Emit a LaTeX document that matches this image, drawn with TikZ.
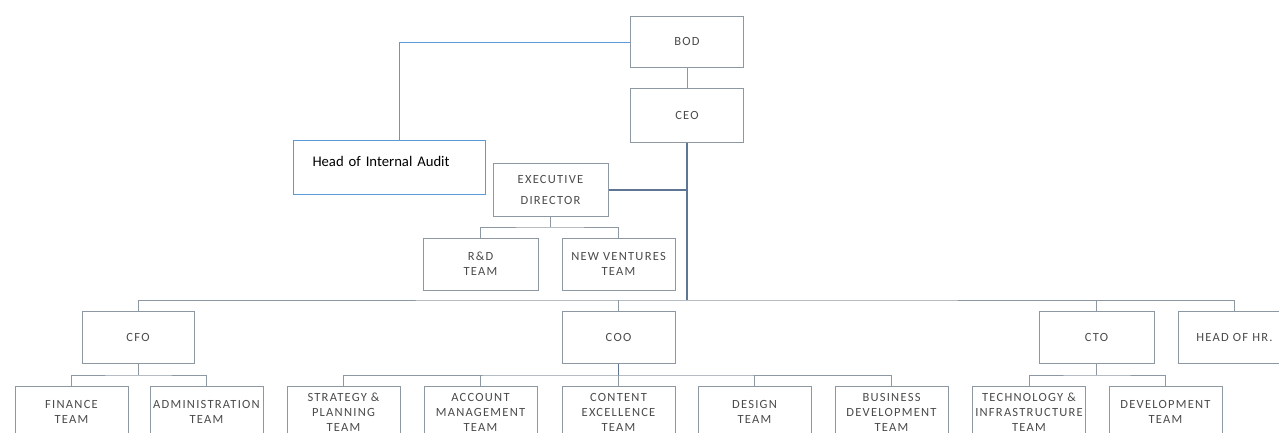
\documentclass[tikz,border=0pt]{standalone}
\usepackage{fontspec}
\setmainfont{Carlito}
\newfontfamily\boxfont[LetterSpace=10]{Carlito}
\usepackage{tikz}
\definecolor{linegray}{HTML}{8E98A3}
\definecolor{trunkblue}{HTML}{5E7694}
\definecolor{auditblue}{HTML}{5B9BD5}
\definecolor{textgray}{HTML}{4A4A4A}
\tikzset{
  box/.style={draw=linegray,line width=1pt,minimum width=113pt,minimum height=52pt,
    inner sep=1pt,align=center,text=textgray,font=\boxfont\fontsize{12.5}{15}\selectfont},
  link/.style={draw=linegray,line width=1pt},
  trunk/.style={draw=trunkblue,line width=1.3pt},
  auditbox/.style={draw=auditblue,line width=1pt,minimum width=192pt,minimum height=54pt,
    text width=154pt,inner xsep=19pt,inner ysep=0pt,align=left,text depth=12pt,
    font=\fontsize{14.7}{17}\selectfont}
}
\begin{document}
\begin{tikzpicture}[x=1pt,y=-1pt]
\useasboundingbox (0,0) rectangle (1279,432);
\clip (0,0) rectangle (1279,432);
\node[box,minimum height=51pt] (bod) at (687,41.5) {BOD};
\node[box,minimum height=54pt] (ceo) at (687,115) {CEO};
\node[auditbox,anchor=north west] (audit) at (293,140) {Head of Internal Audit};
\node[box,minimum width=115pt,minimum height=53pt] (exec) at (550.5,190) {EXECUTIVE\\[6pt]DIRECTOR};
\node[box,minimum width=115pt] (rnd) at (480.5,264) {R\&D\\TEAM};
\node[box] (ventures) at (618.5,264) {NEW VENTURES\\TEAM};
\node[box,minimum width=112pt] (cfo) at (138,337) {CFO};
\node[box] (coo) at (618.5,337) {COO};
\node[box,minimum width=115pt] (cto) at (1096.5,337) {CTO};
\node[box] (hr) at (1234.5,337) {HEAD OF HR.};
\foreach \n/\x/\t in {finance/71.5/{FINANCE\\TEAM}, admin/206.5/{ADMINISTRATION\\TEAM},
    strategy/343.5/{STRATEGY \&\\PLANNING\\TEAM}, account/480.5/{ACCOUNT\\MANAGEMENT\\TEAM},
    content/618.5/{CONTENT\\EXCELLENCE\\TEAM}, design/754.5/{DESIGN\\TEAM},
    bizdev/891.5/{BUSINESS\\DEVELOPMENT\\TEAM}, techinfra/1029/{TECHNOLOGY \&\\INFRASTRUCTURE\\TEAM},
    devteam/1165.5/{DEVELOPMENT\\TEAM}}
  \node[box] (\n) at (\x,412) {\t};
\coordinate (auditturn) at (399,42);
\coordinate (edbar) at (550.5,227);
\coordinate (mainbus) at (687,300);
\coordinate (lowbus) at (0,375);
\draw[draw=auditblue,line width=1pt] (bod.west |- auditturn) -- (auditturn) -- (auditturn |- audit.north);
\draw[link] (bod) -- (ceo);
\draw[trunk] (ceo.south) -- (mainbus);
\draw[trunk] (exec.east) -- (exec.east -| ceo.south);
\draw[link] (exec.south) -- (edbar);
\draw[link] (rnd.north) |- (edbar) -| (ventures.north);
\draw[link] (cfo.north) |- (mainbus) -| (hr.north);
\draw[link] (coo.north) -- (coo.north |- mainbus);
\draw[link] (cto.north) -- (cto.north |- mainbus);
\draw[link] (cfo.south) -- (cfo.south |- lowbus);
\draw[link] (finance.north) |- (cfo.south |- lowbus) -| (admin.north);
\draw[trunk] (coo.south) -- (coo.south |- lowbus);
\draw[link] (strategy.north) |- (coo.south |- lowbus) -| (bizdev.north);
\foreach \n in {account,content,design}
  \draw[link] (\n.north) -- (\n.north |- lowbus);
\draw[link] (cto.south) -- (cto.south |- lowbus);
\draw[link] (techinfra.north) |- (cto.south |- lowbus) -| (devteam.north);
\end{tikzpicture}
\end{document}
